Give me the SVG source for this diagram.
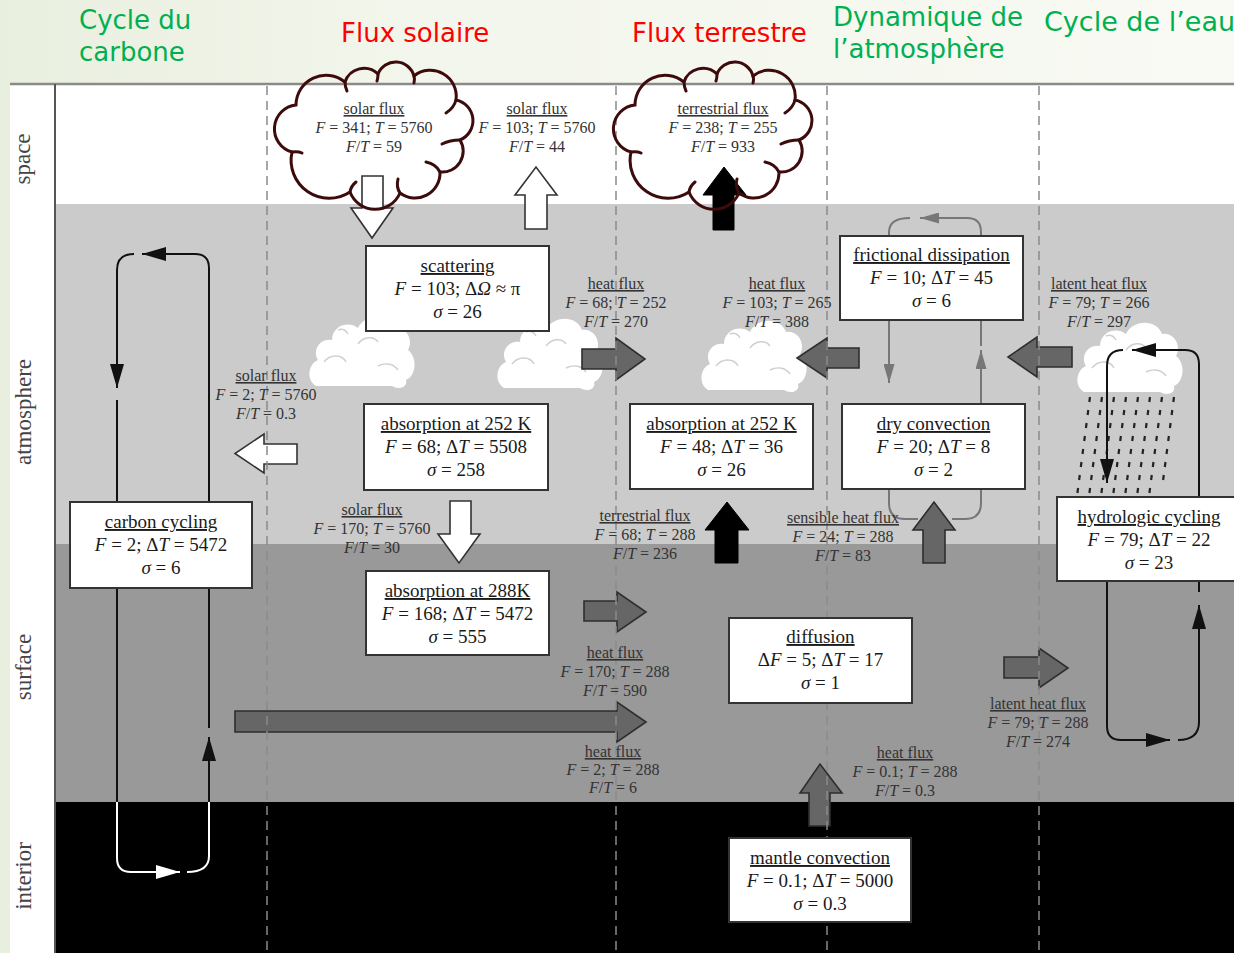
<svg xmlns="http://www.w3.org/2000/svg" xmlns:xlink="http://www.w3.org/1999/xlink" width="1234" height="953" viewBox="0 0 1234 953">
<defs>
<style>
.lbl{font-family:"Liberation Serif","Times New Roman",serif;font-size:16px;fill:#333;text-anchor:middle}
.box rect{fill:#fff;stroke:#333;stroke-width:2}
.box text{font-family:"Liberation Serif","Times New Roman",serif;font-size:19px;fill:#1a1a1a;text-anchor:middle}
.u{text-decoration:underline}
.i{font-style:italic}
.hdr{font-family:"DejaVu Sans","Liberation Sans",sans-serif;font-size:26px}
.green{fill:#00b050}
.red{fill:#ff0000}
.side{font-family:"Liberation Serif","Times New Roman",serif;font-size:23px;fill:#444;text-anchor:middle}
.wa{fill:#fff;stroke:#333;stroke-width:1.6}
.ba{fill:#000;stroke:#000;stroke-width:1}
.ga{fill:#666;stroke:#2e2e2e;stroke-width:1.6}
.cl{fill:none;stroke:#111;stroke-width:2}
.clw{fill:none;stroke:#fff;stroke-width:2}
.clg{fill:none;stroke:#777;stroke-width:2}
.dash{stroke:#8a8a8a;stroke-width:1.5;stroke-dasharray:9 6}
.bc{fill:none;stroke:#3d0b0b;stroke-width:3;stroke-linecap:round}
.rain{fill:none;stroke:#222;stroke-width:2.2}
</style>
<linearGradient id="bg" x1="0" y1="0" x2="1" y2="0">
<stop offset="0" stop-color="#e9efdf"/>
<stop offset="0.35" stop-color="#f3f6ec"/>
<stop offset="1" stop-color="#f8faf3"/>
</linearGradient>
<marker id="mB" viewBox="0 0 24 14" refX="24" refY="7" markerWidth="24" markerHeight="14" markerUnits="userSpaceOnUse" orient="auto"><path d="M0,0 L24,7 L0,14 Z" fill="#111"/></marker>
<marker id="mW" viewBox="0 0 24 14" refX="24" refY="7" markerWidth="24" markerHeight="14" markerUnits="userSpaceOnUse" orient="auto"><path d="M0,0 L24,7 L0,14 Z" fill="#fff"/></marker>
<marker id="mG" viewBox="0 0 19 11" refX="19" refY="5.5" markerWidth="19" markerHeight="11" markerUnits="userSpaceOnUse" orient="auto"><path d="M0,0 L19,5.5 L0,11 Z" fill="#777"/></marker>
<g id="wcloud">
<path d="M8,86 C-2,80 0,64 10,60 C4,50 12,38 24,40 C24,26 40,20 50,28 C56,14 80,12 86,28 C98,26 106,40 100,50 C110,58 108,76 98,80 C100,88 90,90 84,86 Z" fill="#fff"/>
<path d="M16,62 c6,-8 18,-8 22,0 M50,44 c6,-8 16,-8 20,-2 M70,66 c8,-4 16,-2 20,4 M30,30 c4,-2 8,0 10,4" fill="none" stroke="#cfcfcf" stroke-width="1.4"/>
</g>
<g id="bcloud">
<path class="bc" d="M292,152 A24,24 0 0 1 296,105 A30,30 0 0 1 345,82 A20,20 0 0 1 378,74 A19,19 0 0 1 414,76 A26,26 0 0 1 456,100 A21,21 0 0 1 460,140 A21,21 0 0 1 440,172 A25,25 0 0 1 400,193 A27,27 0 0 1 350,192 A38,38 0 0 1 292,152 Z"/>
<path class="bc" d="M292,152 q6,-1 10,1 M345,82 q0,5 2,9 M378,74 q0,4 -1,7 M414,76 q1,3 0,7 M456,100 q-2,8 -10,13 M460,140 q-10,0 -18,4 M440,172 q-4,-8 -14,-10 M400,193 q-4,-6 -2,-14 M350,192 q1,-6 6,-10"/>
</g>
</defs>

<rect x="0" y="0" width="1234" height="953" fill="url(#bg)"/>

<g id="panel">
<rect x="10" y="83" width="45" height="870" fill="#fff"/>
<rect x="55" y="84" width="1179" height="120" fill="#fff"/>
<rect x="55" y="204" width="1179" height="340" fill="#cbcbcb"/>
<rect x="55" y="544" width="1179" height="258" fill="#999"/>
<rect x="55" y="802" width="1179" height="151" fill="#000"/>
<line x1="10" y1="84" x2="1234" y2="84" stroke="#8a8a8a" stroke-width="2.5"/>
<line x1="55" y1="84" x2="55" y2="953" stroke="#555" stroke-width="2"/>
</g>

<g id="side-labels">
<text class="side" transform="translate(30,159) rotate(-90)">space</text>
<text class="side" transform="translate(31,412) rotate(-90)">atmosphere</text>
<text class="side" transform="translate(31,667) rotate(-90)">surface</text>
<text class="side" transform="translate(31,876) rotate(-90)">interior</text>
</g>

<g id="headers">
<text class="hdr green" x="79" y="29">Cycle du</text>
<text class="hdr green" x="79" y="61">carbone</text>
<text class="hdr red" x="341" y="42">Flux solaire</text>
<text class="hdr red" x="632" y="42">Flux terrestre</text>
<text class="hdr green" x="833" y="26">Dynamique de</text>
<text class="hdr green" x="833" y="58">l’atmosphère</text>
<text class="hdr green" x="1044" y="31" style="font-size:27px">Cycle de l’eau</text>
</g>

<g id="atmosphere-clouds">
<use xlink:href="#wcloud" href="#wcloud" transform="translate(308,300)"/>
<use xlink:href="#wcloud" href="#wcloud" transform="translate(496,302)"/>
<use xlink:href="#wcloud" href="#wcloud" transform="translate(700,304)"/>
<use xlink:href="#wcloud" href="#wcloud" transform="translate(1076,306)"/>
<path class="rain" d="M1090,397 l-0.7,5 m12.7,-5 l-0.7,5 m12.7,-5 l-0.7,5 m12.7,-5 l-0.7,5 m12.7,-5 l-0.7,5 m12.7,-5 l-0.7,5 m12.7,-5 l-0.7,5 m12.7,-5 l-0.7,5
M1088.3,410 l-0.7,5 m12.7,-5 l-0.7,5 m12.7,-5 l-0.7,5 m12.7,-5 l-0.7,5 m12.7,-5 l-0.7,5 m12.7,-5 l-0.7,5 m12.7,-5 l-0.7,5 m12.7,-5 l-0.7,5
M1086.6,423 l-0.7,5 m12.7,-5 l-0.7,5 m12.7,-5 l-0.7,5 m12.7,-5 l-0.7,5 m12.7,-5 l-0.7,5 m12.7,-5 l-0.7,5 m12.7,-5 l-0.7,5 m12.7,-5 l-0.7,5
M1084.9,436 l-0.7,5 m12.7,-5 l-0.7,5 m12.7,-5 l-0.7,5 m12.7,-5 l-0.7,5 m12.7,-5 l-0.7,5 m12.7,-5 l-0.7,5 m12.7,-5 l-0.7,5 m12.7,-5 l-0.7,5
M1083.2,449 l-0.7,5 m12.7,-5 l-0.7,5 m12.7,-5 l-0.7,5 m12.7,-5 l-0.7,5 m12.7,-5 l-0.7,5 m12.7,-5 l-0.7,5 m12.7,-5 l-0.7,5 m12.7,-5 l-0.7,5
M1081.5,462 l-0.7,5 m12.7,-5 l-0.7,5 m12.7,-5 l-0.7,5 m12.7,-5 l-0.7,5 m12.7,-5 l-0.7,5 m12.7,-5 l-0.7,5 m12.7,-5 l-0.7,5 m12.7,-5 l-0.7,5
M1079.8,475 l-0.7,5 m12.7,-5 l-0.7,5 m12.7,-5 l-0.7,5 m12.7,-5 l-0.7,5 m12.7,-5 l-0.7,5 m12.7,-5 l-0.7,5 m12.7,-5 l-0.7,5 m12.7,-5 l-0.7,5
M1078.1,488 l-0.7,5 m12.7,-5 l-0.7,5 m12.7,-5 l-0.7,5 m12.7,-5 l-0.7,5 m12.7,-5 l-0.7,5 m12.7,-5 l-0.7,5 m12.7,-5 l-0.7,5"/>
</g>

<g id="connectors">
<polygon class="wa" points="362,176 383,176 383,208 393,208 372,238 351,208 362,208"/>
<polygon class="wa" points="525,229 525,195 515,195 536,167 557,195 547,195 547,229"/>
<polygon class="ba" points="713,230 713,195 703,195 724,167 746,195 734,195 734,230"/>
<polygon class="wa" points="297,444 264,444 264,434 235,453.5 264,473 264,464 297,464"/>
<polygon class="wa" points="450,501 471,501 471,534 480,534 459,563 438,534 450,534"/>
<polygon class="ga" points="582,349 616,349 616,338 645,359 616,380 616,369 582,369"/>
<polygon class="ga" points="859,348 827,348 827,338 797,358 827,378 827,368 859,368"/>
<polygon class="ga" points="1072,347 1037,347 1037,337 1008,357 1037,377 1037,367 1072,367"/>
<polygon class="ba" points="715,563 715,530 705,530 727,502 749,530 738,530 738,563"/>
<polygon class="ga" points="923,563 923,530 913,530 934,502 955,530 945,530 945,563"/>
<polygon class="ga" points="584,601 617,601 617,592 646,612 617,632 617,621 584,621"/>
<polygon class="ga" points="235,711 617,711 617,702 646,722 617,742 617,732 235,732"/>
<polygon class="ga" points="1004,657 1039,657 1039,648 1068,668 1039,688 1039,678 1004,678"/>
<polygon class="ga" points="809,826 809,793 800,793 820,764 842,793 830,793 830,826"/>
<path class="cl" d="M209,502 V268 Q209,254 195,254 H142" marker-end="url(#mB)"/>
<path class="cl" d="M134,254 Q117,254 117,270 V388" marker-end="url(#mB)"/>
<path class="cl" d="M117,400 V502"/>
<path class="cl" d="M117,588 V802"/>
<path class="clw" d="M117,802 V858 Q117,872 131,872 H180" marker-end="url(#mW)"/>
<path class="clw" d="M187,872 Q209,872 209,856 V802"/>
<path class="cl" d="M209,802 V737" marker-end="url(#mB)"/>
<path class="cl" d="M209,728 V588"/>
<path class="cl" d="M1199,497 V364 Q1199,350 1185,350 H1132" marker-end="url(#mB)"/>
<path class="cl" d="M1123,350 Q1107,350 1107,366 V483" marker-end="url(#mB)"/>
<path class="cl" d="M1107,581 V726 Q1107,740 1121,740 H1170" marker-end="url(#mB)"/>
<path class="cl" d="M1178,740 Q1199,740 1199,722 V605" marker-end="url(#mB)"/>
<path class="cl" d="M1199,581 V592"/>
<path class="clg" d="M981,236 V232 Q981,218 967,218 H920" marker-end="url(#mG)"/>
<path class="clg" d="M910,218 Q889,218 889,232 V236"/>
<path class="clg" d="M889,320 V383" marker-end="url(#mG)"/>
<path class="clg" d="M981,404 V350" marker-end="url(#mG)"/>
<path class="clg" d="M981,320 V346"/>
<path class="clg" d="M889,489 V503 Q889,519 905,519 H918"/>
<path class="clg" d="M981,489 V503 Q981,519 965,519 H952"/>
</g>

<g id="dashed-dividers">
<line class="dash" x1="267" y1="86" x2="267" y2="953"/>
<line class="dash" x1="616" y1="86" x2="616" y2="953"/>
<line class="dash" x1="827" y1="86" x2="827" y2="953"/>
<line class="dash" x1="1039" y1="86" x2="1039" y2="953"/>
</g>

<g id="scattering" class="box">
<rect x="366" y="246" width="183" height="85"/>
<text x="457.5" y="272"><tspan class="u">scattering</tspan><tspan x="457.5" dy="23"><tspan class="i">F</tspan> = 103; Δ<tspan class="i">Ω</tspan> ≈ π</tspan><tspan x="457.5" dy="23"><tspan class="i">σ</tspan> = 26</tspan></text>
</g>
<g id="absorption-252K-solar" class="box">
<rect x="364" y="404" width="184" height="86"/>
<text x="456" y="430"><tspan class="u">absorption at 252 K</tspan><tspan x="456" dy="23"><tspan class="i">F</tspan> = 68; Δ<tspan class="i">T</tspan> = 5508</tspan><tspan x="456" dy="23"><tspan class="i">σ</tspan> = 258</tspan></text>
</g>
<g id="carbon-cycling" class="box">
<rect x="70" y="502" width="182" height="86"/>
<text x="161" y="528"><tspan class="u">carbon cycling</tspan><tspan x="161" dy="23"><tspan class="i">F</tspan> = 2; Δ<tspan class="i">T</tspan> = 5472</tspan><tspan x="161" dy="23"><tspan class="i">σ</tspan> = 6</tspan></text>
</g>
<g id="absorption-288K" class="box">
<rect x="366" y="571" width="183" height="84"/>
<text x="457.5" y="597"><tspan class="u">absorption at 288K</tspan><tspan x="457.5" dy="23"><tspan class="i">F</tspan> = 168; Δ<tspan class="i">T</tspan> = 5472</tspan><tspan x="457.5" dy="23"><tspan class="i">σ</tspan> = 555</tspan></text>
</g>
<g id="absorption-252K-terrestrial" class="box">
<rect x="630" y="404" width="183" height="85"/>
<text x="721.5" y="430"><tspan class="u">absorption at 252 K</tspan><tspan x="721.5" dy="23"><tspan class="i">F</tspan> = 48; Δ<tspan class="i">T</tspan> = 36</tspan><tspan x="721.5" dy="23"><tspan class="i">σ</tspan> = 26</tspan></text>
</g>
<g id="dry-convection" class="box">
<rect x="842" y="404" width="183" height="85"/>
<text x="933.5" y="430"><tspan class="u">dry convection</tspan><tspan x="933.5" dy="23"><tspan class="i">F</tspan> = 20; Δ<tspan class="i">T</tspan> = 8</tspan><tspan x="933.5" dy="23"><tspan class="i">σ</tspan> = 2</tspan></text>
</g>
<g id="frictional-dissipation" class="box">
<rect x="840" y="236" width="183" height="84"/>
<text x="931.5" y="261"><tspan class="u">frictional dissipation</tspan><tspan x="931.5" dy="23"><tspan class="i">F</tspan> = 10; Δ<tspan class="i">T</tspan> = 45</tspan><tspan x="931.5" dy="23"><tspan class="i">σ</tspan> = 6</tspan></text>
</g>
<g id="hydrologic-cycling" class="box">
<rect x="1057" y="497" width="184" height="84"/>
<text x="1149" y="523"><tspan class="u">hydrologic cycling</tspan><tspan x="1149" dy="23"><tspan class="i">F</tspan> = 79; Δ<tspan class="i">T</tspan> = 22</tspan><tspan x="1149" dy="23"><tspan class="i">σ</tspan> = 23</tspan></text>
</g>
<g id="diffusion" class="box">
<rect x="729" y="618" width="183" height="85"/>
<text x="820.5" y="643"><tspan class="u">diffusion</tspan><tspan x="820.5" dy="23">Δ<tspan class="i">F</tspan> = 5; Δ<tspan class="i">T</tspan> = 17</tspan><tspan x="820.5" dy="23"><tspan class="i">σ</tspan> = 1</tspan></text>
</g>
<g id="mantle-convection" class="box">
<rect x="729" y="838" width="182" height="84"/>
<text x="820" y="864"><tspan class="u">mantle convection</tspan><tspan x="820" dy="23"><tspan class="i">F</tspan> = 0.1; Δ<tspan class="i">T</tspan> = 5000</tspan><tspan x="820" dy="23"><tspan class="i">σ</tspan> = 0.3</tspan></text>
</g>

<g id="flux-labels">
<text class="lbl" x="374" y="114"><tspan class="u">solar flux</tspan><tspan x="374" dy="19"><tspan class="i">F</tspan> = 341; <tspan class="i">T</tspan> = 5760</tspan><tspan x="374" dy="19"><tspan class="i">F</tspan>/<tspan class="i">T</tspan> = 59</tspan></text>
<text class="lbl" x="537" y="114"><tspan class="u">solar flux</tspan><tspan x="537" dy="19"><tspan class="i">F</tspan> = 103; <tspan class="i">T</tspan> = 5760</tspan><tspan x="537" dy="19"><tspan class="i">F</tspan>/<tspan class="i">T</tspan> = 44</tspan></text>
<text class="lbl" x="723" y="114"><tspan class="u">terrestrial flux</tspan><tspan x="723" dy="19"><tspan class="i">F</tspan> = 238; <tspan class="i">T</tspan> = 255</tspan><tspan x="723" dy="19"><tspan class="i">F</tspan>/<tspan class="i">T</tspan> = 933</tspan></text>
<text class="lbl" x="616" y="289"><tspan class="u">heat flux</tspan><tspan x="616" dy="19"><tspan class="i">F</tspan> = 68; <tspan class="i">T</tspan> = 252</tspan><tspan x="616" dy="19"><tspan class="i">F</tspan>/<tspan class="i">T</tspan> = 270</tspan></text>
<text class="lbl" x="777" y="289"><tspan class="u">heat flux</tspan><tspan x="777" dy="19"><tspan class="i">F</tspan> = 103; <tspan class="i">T</tspan> = 265</tspan><tspan x="777" dy="19"><tspan class="i">F</tspan>/<tspan class="i">T</tspan> = 388</tspan></text>
<text class="lbl" x="1099" y="289"><tspan class="u">latent heat flux</tspan><tspan x="1099" dy="19"><tspan class="i">F</tspan> = 79; <tspan class="i">T</tspan> = 266</tspan><tspan x="1099" dy="19"><tspan class="i">F</tspan>/<tspan class="i">T</tspan> = 297</tspan></text>
<text class="lbl" x="266" y="381"><tspan class="u">solar flux</tspan><tspan x="266" dy="19"><tspan class="i">F</tspan> = 2; <tspan class="i">T</tspan> = 5760</tspan><tspan x="266" dy="19"><tspan class="i">F</tspan>/<tspan class="i">T</tspan> = 0.3</tspan></text>
<text class="lbl" x="372" y="515"><tspan class="u">solar flux</tspan><tspan x="372" dy="19"><tspan class="i">F</tspan> = 170; <tspan class="i">T</tspan> = 5760</tspan><tspan x="372" dy="19"><tspan class="i">F</tspan>/<tspan class="i">T</tspan> = 30</tspan></text>
<text class="lbl" x="645" y="521"><tspan class="u">terrestrial flux</tspan><tspan x="645" dy="19"><tspan class="i">F</tspan> = 68; <tspan class="i">T</tspan> = 288</tspan><tspan x="645" dy="19"><tspan class="i">F</tspan>/<tspan class="i">T</tspan> = 236</tspan></text>
<text class="lbl" x="843" y="523"><tspan class="u">sensible heat flux</tspan><tspan x="843" dy="19"><tspan class="i">F</tspan> = 24; <tspan class="i">T</tspan> = 288</tspan><tspan x="843" dy="19"><tspan class="i">F</tspan>/<tspan class="i">T</tspan> = 83</tspan></text>
<text class="lbl" x="615" y="658"><tspan class="u">heat flux</tspan><tspan x="615" dy="19"><tspan class="i">F</tspan> = 170; <tspan class="i">T</tspan> = 288</tspan><tspan x="615" dy="19"><tspan class="i">F</tspan>/<tspan class="i">T</tspan> = 590</tspan></text>
<text class="lbl" x="613" y="757"><tspan class="u">heat flux</tspan><tspan x="613" dy="18"><tspan class="i">F</tspan> = 2; <tspan class="i">T</tspan> = 288</tspan><tspan x="613" dy="18"><tspan class="i">F</tspan>/<tspan class="i">T</tspan> = 6</tspan></text>
<text class="lbl" x="905" y="758"><tspan class="u">heat flux</tspan><tspan x="905" dy="19"><tspan class="i">F</tspan> = 0.1; <tspan class="i">T</tspan> = 288</tspan><tspan x="905" dy="19"><tspan class="i">F</tspan>/<tspan class="i">T</tspan> = 0.3</tspan></text>
<text class="lbl" x="1038" y="709"><tspan class="u">latent heat flux</tspan><tspan x="1038" dy="19"><tspan class="i">F</tspan> = 79; <tspan class="i">T</tspan> = 288</tspan><tspan x="1038" dy="19"><tspan class="i">F</tspan>/<tspan class="i">T</tspan> = 274</tspan></text>
</g>

<g id="callout-clouds">
<use xlink:href="#bcloud" href="#bcloud"/>
<use xlink:href="#bcloud" href="#bcloud" transform="translate(339,0)"/>
</g>
</svg>
